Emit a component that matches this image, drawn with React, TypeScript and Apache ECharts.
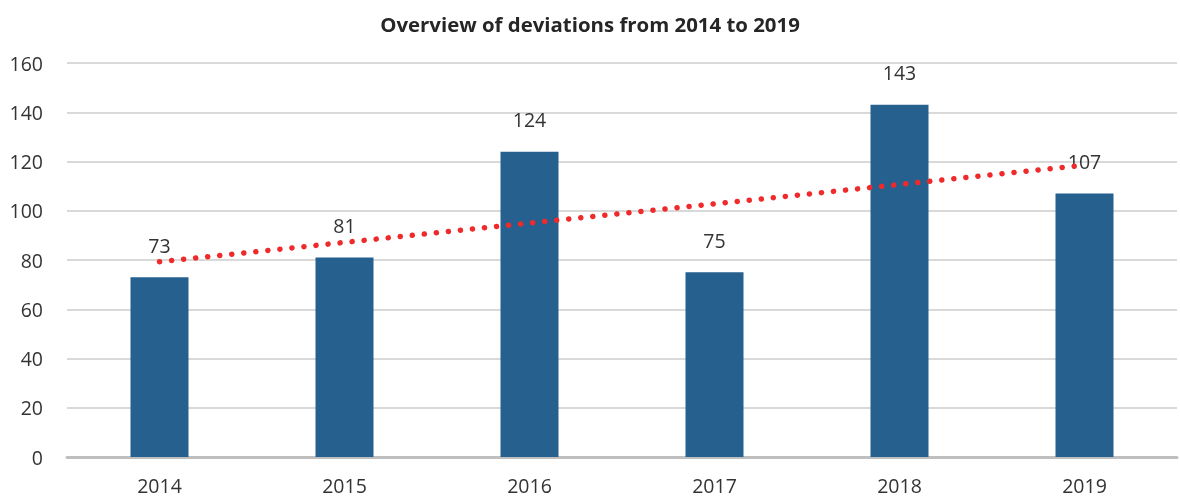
import React, { useEffect, useRef } from "react";
import * as echarts from "echarts";

const title = "Overview of deviations from 2014 to 2019";
const categories = ["2014", "2015", "2016", "2017", "2018", "2019"];
const deviations = [73, 81, 124, 75, 143, 107];
const trendStart = 79.3;
const trendEnd = 118.5;
const yTicks = { min: 0, max: 160, interval: 20 };

export default function App() {
  const ref = useRef<HTMLDivElement>(null);
  useEffect(() => {
    if (!ref.current) return;
    const chart = echarts.init(ref.current, null, { renderer: "svg" });
    const trend = categories.map((_, i) =>
      i === 0 ? trendStart : i === categories.length - 1 ? trendEnd : "-"
    );
    const font = "'Open Sans', 'Noto Sans', sans-serif";
    chart.setOption({
      animation: false,
      textStyle: { fontFamily: font },
      title: {
        text: title,
        left: "center",
        top: 9,
        textStyle: { fontFamily: font, fontSize: 20.4, fontWeight: "bold", color: "#262626" },
      },
      grid: { left: 67, right: 3, top: 63, bottom: 41, containLabel: false },
      xAxis: {
        type: "category",
        data: categories,
        axisLine: { lineStyle: { color: "#BFBFBF", width: 3 } },
        axisTick: { show: false },
        axisLabel: { color: "#333", fontSize: 19.5, margin: 18, fontFamily: font },
      },
      yAxis: {
        type: "value",
        min: yTicks.min,
        max: yTicks.max,
        interval: yTicks.interval,
        axisLine: { show: false },
        axisTick: { show: false },
        splitLine: { lineStyle: { color: "#D9D9D9", width: 2 } },
        axisLabel: { color: "#333", fontSize: 19.5, margin: 24, fontFamily: font },
      },
      series: [
        {
          type: "bar",
          data: deviations,
          barWidth: 58,
          itemStyle: { color: "#26608F" },
          label: {
            show: true,
            position: "top",
            distance: 22,
            color: "#333",
            fontSize: 19.5,
            fontFamily: font,
          },
        },
        {
          type: "line",
          data: trend,
          connectNulls: true,
          symbol: "none",
          z: 5,
          lineStyle: { color: "#EE2A2A", width: 5.5, type: [0.1, 12], cap: "round" },
        },
      ],
    });
    return () => chart.dispose();
  }, []);
  return (
    <div
      ref={ref}
      style={{ position: "fixed", left: 0, top: 0, width: 1180, height: 498 }}
    />
  );
}
